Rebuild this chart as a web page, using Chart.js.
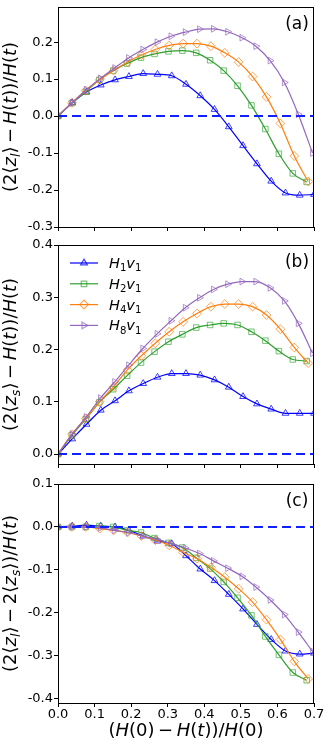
<!DOCTYPE html>
<html>
<head>
<meta charset="utf-8">
<script src="https://cdn.jsdelivr.net/npm/chart.js@4.4.1/dist/chart.umd.min.js"></script>
<style>
  body { margin: 0; background: #fff; }
  #wrap { position: relative; width: 332px; height: 747px; }
  #wrap canvas { position: absolute; left: 0; }
</style>
</head>
<body>
<div id="wrap">
  <canvas id="panelA" width="332" height="235" style="top:0px"></canvas>
  <canvas id="panelB" width="332" height="234" style="top:238px"></canvas>
  <canvas id="panelC" width="332" height="270" style="top:477px"></canvas>
</div>
<script>
// x = (H(0)-H(t))/H(0) sample points for each run
const xH1 = [0, 0.039, 0.078, 0.117, 0.156, 0.194, 0.233, 0.272, 0.311, 0.35, 0.389, 0.428, 0.467, 0.506, 0.544, 0.583, 0.622, 0.661, 0.7];
const xH2 = [0, 0.038, 0.076, 0.113, 0.151, 0.189, 0.227, 0.264, 0.302, 0.34, 0.378, 0.416, 0.453, 0.491, 0.529, 0.567, 0.604, 0.642, 0.68];
const xH4 = [0, 0.038, 0.076, 0.114, 0.152, 0.19, 0.228, 0.266, 0.304, 0.342, 0.38, 0.418, 0.456, 0.494, 0.532, 0.57, 0.608, 0.646, 0.684];
const xH8 = [0, 0.039, 0.077, 0.116, 0.155, 0.193, 0.232, 0.271, 0.309, 0.348, 0.387, 0.425, 0.464, 0.503, 0.541, 0.58, 0.619, 0.657, 0.696];

// (a) (2<z_l> - H(t))/H(t)
const aH1 = [0, 0.036, 0.065, 0.084, 0.098, 0.107, 0.115, 0.113, 0.109, 0.086, 0.055, 0.018, -0.029, -0.080, -0.129, -0.176, -0.208, -0.214, -0.212];
const aH2 = [0, 0.035, 0.066, 0.098, 0.123, 0.142, 0.158, 0.168, 0.175, 0.177, 0.171, 0.151, 0.123, 0.082, 0.029, -0.035, -0.102, -0.155, -0.178];
const aH4 = [0, 0.036, 0.069, 0.098, 0.123, 0.146, 0.165, 0.180, 0.191, 0.196, 0.196, 0.189, 0.171, 0.146, 0.107, 0.052, -0.020, -0.108, -0.177];
const aH8 = [0, 0.036, 0.071, 0.102, 0.130, 0.157, 0.180, 0.200, 0.216, 0.227, 0.235, 0.236, 0.228, 0.212, 0.189, 0.150, 0.091, 0.005, -0.100];

// (b) (2<z_s> - H(t))/H(t)
const bH1 = [0, 0.029, 0.057, 0.084, 0.102, 0.121, 0.135, 0.147, 0.154, 0.154, 0.151, 0.142, 0.128, 0.110, 0.096, 0.086, 0.078, 0.078, 0.078];
const bH2 = [0, 0.036, 0.067, 0.099, 0.124, 0.150, 0.175, 0.196, 0.215, 0.229, 0.242, 0.247, 0.250, 0.247, 0.234, 0.217, 0.197, 0.181, 0.178];
const bH4 = [0, 0.038, 0.068, 0.100, 0.129, 0.161, 0.188, 0.212, 0.234, 0.253, 0.269, 0.282, 0.287, 0.287, 0.282, 0.266, 0.239, 0.204, 0.174];
const bH8 = [0, 0.038, 0.071, 0.107, 0.138, 0.170, 0.202, 0.230, 0.255, 0.280, 0.299, 0.315, 0.325, 0.330, 0.330, 0.318, 0.293, 0.250, 0.193];

// (c) (2<z_l> - 2<z_s>)/H(t)
const cH1 = [0, 0.002, 0.004, 0.002, 0, -0.008, -0.021, -0.033, -0.039, -0.067, -0.098, -0.125, -0.157, -0.191, -0.227, -0.262, -0.289, -0.296, -0.294];
const cH2 = [0, 0, 0, 0.002, 0, -0.008, -0.013, -0.026, -0.037, -0.048, -0.072, -0.097, -0.128, -0.165, -0.206, -0.255, -0.298, -0.339, -0.357];
const cH4 = [0, 0, 0, -0.004, -0.008, -0.013, -0.021, -0.031, -0.043, -0.059, -0.074, -0.094, -0.117, -0.144, -0.175, -0.216, -0.262, -0.313, -0.354];
const cH8 = [0, 0, 0, -0.002, -0.008, -0.013, -0.021, -0.029, -0.039, -0.049, -0.062, -0.079, -0.096, -0.115, -0.140, -0.170, -0.204, -0.245, -0.290];

const seriesLabels = ['H_1v_1', 'H_2v_1', 'H_4v_1', 'H_8v_1'];
const xTicks = [0, 0.1, 0.2, 0.3, 0.4, 0.5, 0.6, 0.7];
const yTicksA = [-0.3, -0.2, -0.1, 0, 0.1, 0.2];
const yTicksB = [0, 0.1, 0.2, 0.3, 0.4];
const yTicksC = [-0.4, -0.3, -0.2, -0.1, 0, 0.1];
const refLevel = 0;

const FONT = '"DejaVu Sans"';
const styles = [
  { color: '#0000ff', mark: 'rgba(0,0,255,0.75)',    shape: 'triangle', rot: 0,  r: 3.9 },
  { color: '#2ca02c', mark: 'rgba(44,160,44,0.65)',  shape: 'rect',     rot: 0,  r: 3.9 },
  { color: '#ff7f0e', mark: 'rgba(255,127,14,0.7)',  shape: 'rectRot',  rot: 0,  r: 4.4 },
  { color: '#9467bd', mark: 'rgba(148,103,189,0.7)', shape: 'triangle', rot: 90, r: 3.9 }
];

// tiny mathtext: letters italic, _x -> subscript
function mathRuns(str) {
  const runs = [];
  for (let i = 0; i < str.length; i++) {
    const ch = str[i];
    if (ch === '_') { runs.push({ t: str[i + 1], it: /[a-z]/i.test(str[i + 1]), sub: true }); i++; continue; }
    runs.push({ t: ch, it: /[a-z]/i.test(ch), sub: false });
  }
  return runs;
}
function drawMath(ctx, str, x, y, size, center) {
  const runs = mathRuns(str);
  const fontOf = r => (r.it ? 'italic ' : '') + (r.sub ? size * 0.7 : size) + 'px ' + FONT;
  let w = 0;
  runs.forEach(r => { ctx.font = fontOf(r); r.w = ctx.measureText(r.t).width; w += r.w; });
  let cx = center ? x - w / 2 : x;
  ctx.textAlign = 'left';
  ctx.textBaseline = 'alphabetic';
  runs.forEach(r => { ctx.font = fontOf(r); ctx.fillText(r.t, cx, y + (r.sub ? size * 0.22 : 0)); cx += r.w; });
}

const decor = {
  id: 'decor',
  afterDraw(chart, args, o) {
    const { ctx, chartArea: a } = chart;
    ctx.save();
    ctx.strokeStyle = '#000';
    ctx.lineWidth = 1;
    ctx.strokeRect(a.left + 0.5, a.top + 0.5, a.right - a.left - 1, a.bottom - a.top);
    ctx.fillStyle = '#000';
    ctx.font = '17px ' + FONT;
    ctx.textAlign = 'center';
    ctx.textBaseline = 'alphabetic';
    ctx.fillText(o.tag, 297, a.top + 22);
    // y title
    ctx.save();
    ctx.translate(16, (a.top + a.bottom) / 2);
    ctx.rotate(-Math.PI / 2);
    drawMath(ctx, o.yTitle, 0, 0, 18, true);
    ctx.restore();
    if (o.xTitle) drawMath(ctx, o.xTitle, (a.left + a.right) / 2, chart.height - 11, 18, true);
    if (o.legend) {
      seriesLabels.forEach((lab, k) => {
        const s = styles[k];
        const y = a.top + 18 + k * 20.8;
        ctx.strokeStyle = s.color;
        ctx.lineWidth = 1.2;
        ctx.beginPath(); ctx.moveTo(70, y); ctx.lineTo(98, y); ctx.stroke();
        ctx.strokeStyle = s.mark;
        ctx.fillStyle = 'rgba(0,0,0,0)';
        Chart.helpers.drawPoint(ctx, { pointStyle: s.shape, rotation: s.rot, radius: s.r, borderWidth: 1 }, 84, y);
        ctx.fillStyle = '#000';
        drawMath(ctx, lab, 109, y + 5, 14.5, false);
      });
    }
    ctx.restore();
  }
};

function makePanel(id, ys, yTicks, yMin, yMax, extra) {
  const datasets = styles.map((s, k) => ({
    label: seriesLabels[k],
    data: [xH1, xH2, xH4, xH8][k].map((x, i) => ({ x: x, y: ys[k][i] })),
    borderColor: s.color,
    borderWidth: 1.2,
    pointStyle: s.shape,
    pointRotation: s.rot,
    pointRadius: s.r,
    pointBorderWidth: 1,
    pointBorderColor: s.mark,
    pointBackgroundColor: 'rgba(0,0,0,0)',
    cubicInterpolationMode: 'monotone',
    fill: false,
    clip: 0,
    order: 4 - k
  }));
  datasets.push({
    data: [{ x: xTicks[0], y: refLevel }, { x: xTicks[xTicks.length - 1], y: refLevel }],
    borderColor: '#1020ff',
    borderWidth: 2,
    borderDash: [9, 5],
    pointRadius: 0,
    fill: false,
    clip: 0,
    order: 0
  });
  const tickFont = { family: FONT, size: 13 };
  return new Chart(document.getElementById(id), {
    type: 'line',
    data: { datasets: datasets },
    plugins: [decor],
    options: {
      responsive: false,
      animation: false,
      events: [],
      devicePixelRatio: 1,
      layout: { padding: { top: 7, right: 18, left: 0, bottom: 0 } },
      plugins: {
        legend: { display: false },
        tooltip: { enabled: false },
        decor: extra
      },
      scales: {
        x: {
          type: 'linear', min: 0, max: 0.7,
          afterBuildTicks: sc => { sc.ticks = xTicks.map(v => ({ value: v })); },
          ticks: { display: !!extra.xTitle, font: tickFont, color: '#000', padding: 0, maxRotation: 0,
                   callback: v => v.toFixed(1) },
          grid: { drawOnChartArea: false, drawTicks: true, tickLength: 4, color: '#000', lineWidth: 1 },
          border: { display: false },
          afterFit: sc => { sc.height = extra.xTitle ? 44 : 8; sc.paddingLeft = 0; sc.paddingRight = 0; }
        },
        y: {
          type: 'linear', min: yMin, max: yMax,
          afterBuildTicks: sc => { sc.ticks = yTicks.map(v => ({ value: v })); },
          ticks: { font: tickFont, color: '#000', padding: 1, callback: v => v.toFixed(1) },
          grid: { drawOnChartArea: false, drawTicks: true, tickLength: 4, color: '#000', lineWidth: 1 },
          border: { display: false },
          afterFit: sc => { sc.width = 58; sc.paddingTop = 0; sc.paddingBottom = 0; }
        }
      }
    }
  });
}

makePanel('panelA', [aH1, aH2, aH4, aH8], yTicksA, -0.3, 0.295,
  { tag: '(a)', yTitle: '(2\u27e8z_l\u27e9\u2009\u2212\u2009H(t))/H(t)' });
makePanel('panelB', [bH1, bH2, bH4, bH8], yTicksB, -0.019, 0.4,
  { tag: '(b)', yTitle: '(2\u27e8z_s\u27e9\u2009\u2212\u2009H(t))/H(t)', legend: true });
makePanel('panelC', [cH1, cH2, cH4, cH8], yTicksC, -0.41, 0.1,
  { tag: '(c)', yTitle: '(2\u27e8z_l\u27e9\u2009\u2212\u20092\u27e8z_s\u27e9)/H(t)', xTitle: '(H(0)\u2009\u2212\u2009H(t))/H(0)' });
</script>
</body>
</html>
